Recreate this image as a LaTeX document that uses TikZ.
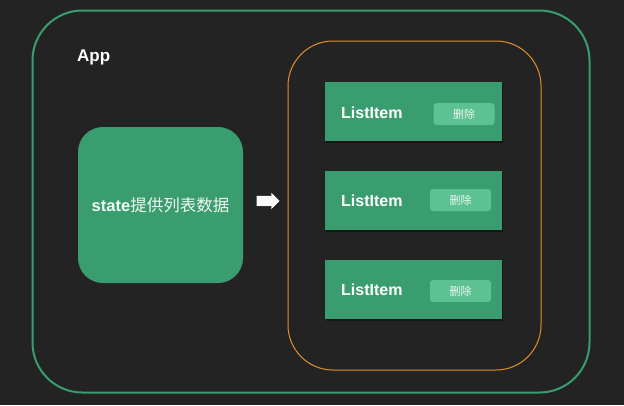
\documentclass[tikz,border=0pt]{standalone}
\usepackage{fontspec}
\setmainfont{Liberation Sans}
\newfontfamily\cjk{Noto Sans CJK SC}
\usetikzlibrary{shapes.arrows,shadows}
\definecolor{bgcol}{HTML}{232323}
\definecolor{appgreen}{HTML}{3A9D6F}
\definecolor{btngreen}{HTML}{5CC193}
\definecolor{listorange}{HTML}{E3902A}

\begin{document}
\begin{tikzpicture}[x=1pt,y=-1pt,
	box_node/.style={rectangle,inner sep=0pt,outer sep=0pt},
	item_node/.style={box_node,fill=appgreen,minimum width=177pt,minimum height=59pt,
		drop shadow={shadow xshift=0.8pt,shadow yshift=-1.5pt,fill=black,opacity=.35}},
	btn_node/.style={box_node,fill=btngreen,rounded corners=3pt,minimum width=61pt,minimum height=22pt,
		text=white!92!appgreen,font=\cjk\fontsize{11}{13}\selectfont},
	label_node/.style={inner sep=0pt,text=white,font=\bfseries\fontsize{16}{19}\selectfont,anchor=west}]

		\fill[bgcol] (0,0) rectangle (624,405);
		\useasboundingbox (0,0) rectangle (624,405);

		\node[box_node,draw=appgreen,line width=2pt,rounded corners=50pt,minimum width=557pt,minimum height=382pt] (app) at (311,201.5) {};
		\node[inner sep=0pt,text=white,font=\bfseries\fontsize{17}{20}\selectfont,anchor=west] (applabel) at (77,57) {App};

		\node[box_node,fill=appgreen,rounded corners=25pt,minimum width=165pt,minimum height=156pt,
			text=white!92!appgreen,font=\fontsize{16.5}{19}\selectfont] (state) at (160.5,205) {\textbf{state}{\cjk 提供列表数据}};

		\node[single arrow,fill=white!95!gray,inner xsep=0pt,inner ysep=5pt,minimum height=23pt,
			single arrow head extend=3pt,single arrow tip angle=90,
			drop shadow={shadow xshift=0.6pt,shadow yshift=-0.8pt,fill=black,opacity=.4}] (arrow) at (265.5,201) {};

		\node[box_node,draw=listorange,line width=1pt,rounded corners=45pt,minimum width=253pt,minimum height=329pt] (list) at (414.5,205.5) {};

		\node[item_node] (item1) at (413.5,111.5) {};
		\node[item_node] (item2) at (413.5,200.5) {};
		\node[item_node] (item3) at (413.5,289.5) {};

		\node[label_node] (name1) at (341,113) {ListItem};
		\node[label_node] (name2) at (341,201) {ListItem};
		\node[label_node] (name3) at (341,290) {ListItem};

		\node[btn_node] (del1) at (464,114) {删除};
		\node[btn_node] (del2) at (460.5,200) {删除};
		\node[btn_node] (del3) at (460.5,291) {删除};
		\end{tikzpicture}
\end{document}
